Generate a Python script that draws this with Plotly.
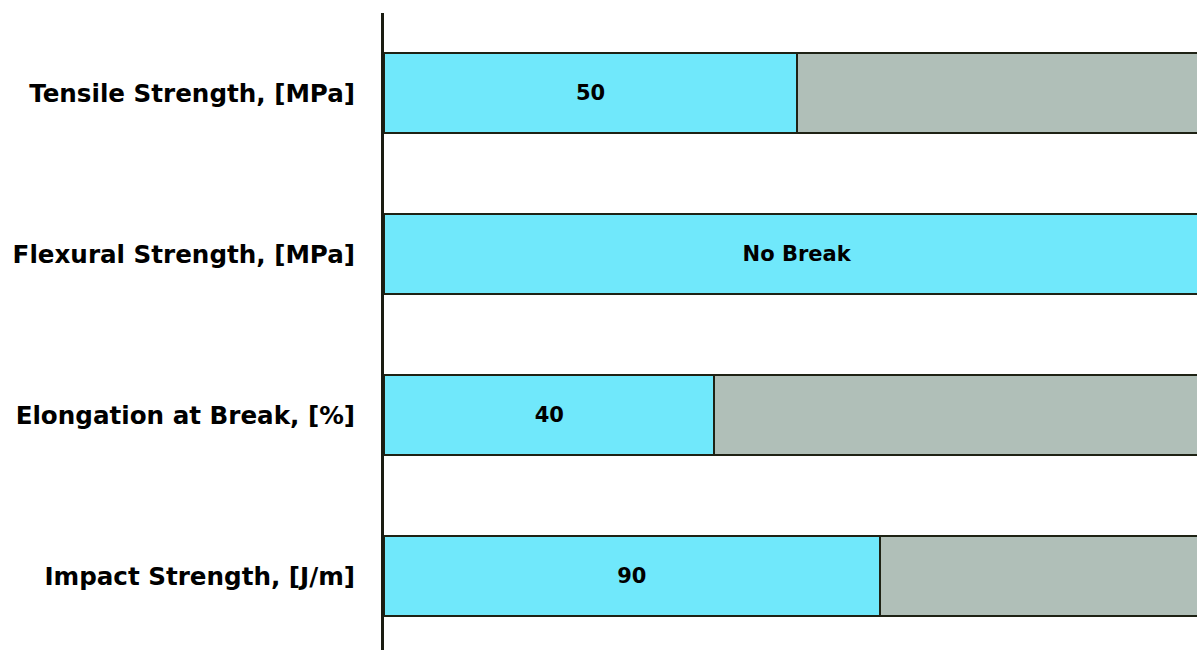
import plotly.graph_objects as go

# Material property rows, top to bottom
properties = ["Tensile Strength, [MPa]", "Flexural Strength, [MPa]",
              "Elongation at Break, [%]", "Impact Strength, [J/m]"]
values = [50, None, 40, 90]          # None = specimen did not break
scale_max = [100, 100, 100, 150]     # full-scale value of each row
value_labels = ["50", "No Break", "40", "90"]

# Share of the full scale covered by each measured value (percent)
filled = [100.0 if v is None else v / m * 100 for v, m in zip(values, scale_max)]
remaining = [100.0 - f for f in filled]
ypos = list(range(len(properties) - 1, -1, -1))

CYAN = "#70E8FB"
GREY = "#B0BFB8"
EDGE = "#1E2214"
FONT = "DejaVu Sans"

fig = go.Figure()
fig.add_trace(go.Bar(
    y=ypos, x=filled, orientation="h", width=0.5,
    marker=dict(color=CYAN, line=dict(color=EDGE, width=2)),
    text=[f"<b>{t}</b>" for t in value_labels],
    textposition="inside", insidetextanchor="middle",
    textfont=dict(family=FONT, size=21, color="#000000"),
    constraintext="none", hoverinfo="skip", showlegend=False,
))
fig.add_trace(go.Bar(
    y=ypos, x=remaining, orientation="h", width=0.5,
    marker=dict(color=GREY, line=dict(color=EDGE, width=2)),
    hoverinfo="skip", showlegend=False,
))

fig.update_layout(
    width=1197, height=650,
    margin=dict(l=384, r=0, t=13, b=0),
    barmode="stack",
    plot_bgcolor="white", paper_bgcolor="white",
    xaxis=dict(range=[0, 98.4], showgrid=False, zeroline=False,
               showticklabels=False, showline=False),
    yaxis=dict(range=[-0.46, 3.497], tickvals=ypos,
               ticktext=[f"<b>{p}</b>" for p in properties],
               tickfont=dict(family=FONT, size=24.6, color="#000000"),
               showgrid=False, zeroline=False,
               showline=True, linewidth=3, linecolor="#1A1C12",
               ticks="", ticklabelstandoff=21),
)

fig.write_html("out.html")
